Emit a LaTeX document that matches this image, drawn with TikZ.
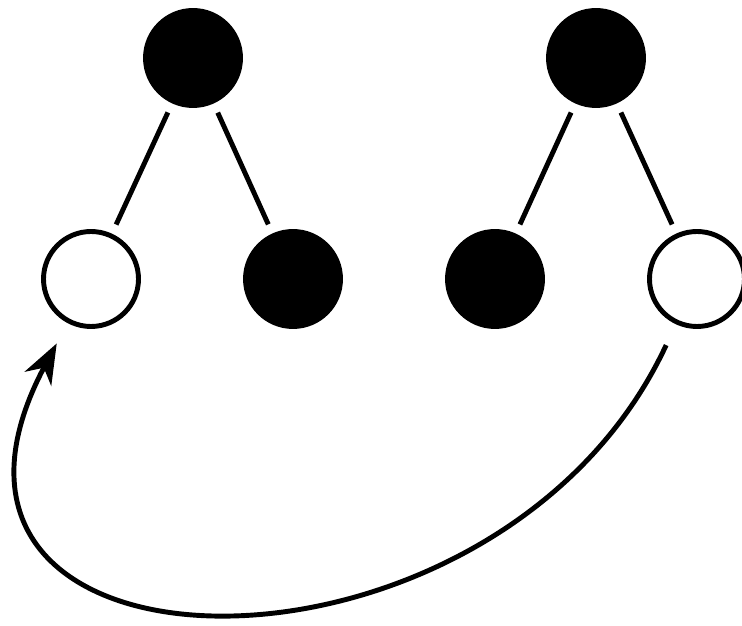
\documentclass[tikz,border=0pt]{standalone}
\usepackage{tikz}
\usetikzlibrary{arrows.meta, positioning}

\begin{document}
\begin{tikzpicture}[
    leaf/.style={circle, draw=black, line width=2.8pt, minimum size=1.9cm, inner sep=0pt},
    full/.style={leaf, fill=black},
    hollow/.style={leaf, fill=white},
    branch/.style={line width=2.8pt, shorten <=0.2cm, shorten >=0.2cm}]
    \useasboundingbox (0,0) rectangle (14.84,12.5);
    % primeira arvore
    \node[full] (rootA) at (3.86,11.34) {};
    \node[hollow] (leftA) at (1.82,6.92) {};
    \node[full] (rightA) at (5.86,6.92) {};
    \draw[branch] (rootA) -- (leftA);
    \draw[branch] (rootA) -- (rightA);
    % segunda arvore
    \node[full] (rootB) at (11.92,11.34) {};
    \node[full] (leftB) at (9.90,6.92) {};
    \node[hollow] (rightB) at (13.94,6.92) {};
    \draw[branch] (rootB) -- (leftB);
    \draw[branch] (rootB) -- (rightB);
    % troca
    \draw[line width=2.8pt, -{Stealth[length=8mm, width=6mm, inset=2.5mm]},
          shorten <=0.46cm, shorten >=0.46cm]
      (rightB) to[out=245, in=242, looseness=1.78] (leftA);
\end{tikzpicture}
\end{document}
